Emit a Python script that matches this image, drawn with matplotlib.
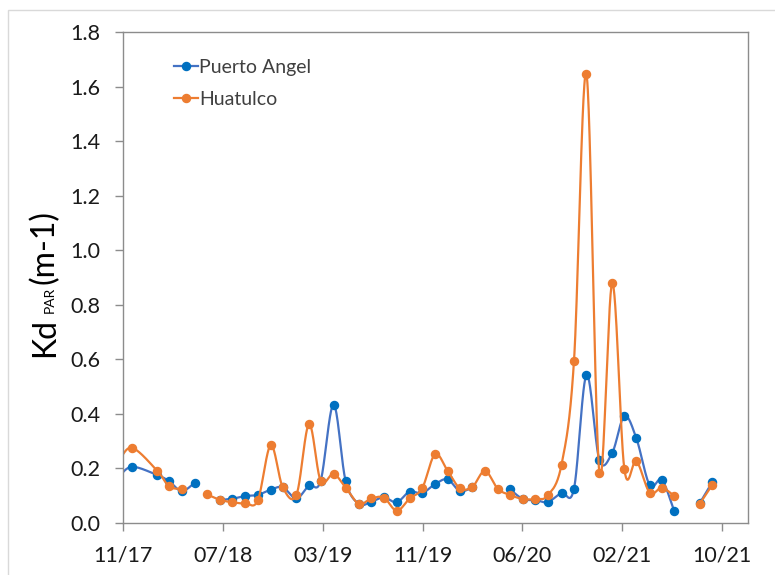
import numpy as np
import pandas as pd
import matplotlib
matplotlib.use("Agg")
import matplotlib.pyplot as plt
import matplotlib.dates as mdates
from matplotlib.lines import Line2D
from matplotlib.patches import Rectangle

plt.rcParams['font.family'] = ['Lato', 'DejaVu Sans']

# ---- data ----
dates = ["2017-10-31", "2017-12-03", "2018-02-02", "2018-03-03", "2018-04-02", "2018-05-03",
         "2018-06-02", "2018-07-03", "2018-08-02", "2018-09-02", "2018-10-02", "2018-11-02",
         "2018-12-01", "2019-01-03", "2019-02-02", "2019-03-02", "2019-04-02", "2019-05-01",
         "2019-06-02", "2019-07-02", "2019-08-01", "2019-09-01", "2019-10-02", "2019-11-01",
         "2019-12-02", "2020-01-01", "2020-01-31", "2020-03-01", "2020-03-31", "2020-05-01",
         "2020-05-30", "2020-06-30", "2020-07-30", "2020-08-29", "2020-10-01", "2020-10-31",
         "2020-11-30", "2020-12-31", "2021-01-31", "2021-03-01", "2021-03-30", "2021-05-01",
         "2021-05-30", "2021-06-29", "2021-07-29", "2021-08-29", "2021-09-28"]

puerto_angel = [0.165, 0.206, 0.176, 0.153, 0.117, 0.147,
                None, 0.084, 0.089, 0.099, 0.103, 0.122,
                0.131, 0.090, 0.138, 0.154, 0.434, 0.155,
                0.070, 0.078, 0.094, 0.076, 0.115, 0.109,
                0.143, 0.160, 0.117, 0.131, None, None,
                0.124, 0.088, 0.084, 0.077, 0.111, 0.126,
                0.543, 0.231, 0.258, 0.392, 0.310, 0.138,
                0.158, 0.043, None, 0.072, 0.149]

huatulco = [0.220, 0.276, 0.192, 0.134, 0.125, None,
            0.105, 0.085, 0.076, 0.072, 0.083, 0.285,
            0.131, 0.104, 0.362, 0.155, 0.180, 0.130,
            0.070, 0.090, 0.093, 0.045, 0.090, 0.127,
            0.252, 0.192, 0.127, 0.133, 0.191, 0.125,
            0.103, 0.088, 0.088, 0.101, 0.214, 0.595,
            1.645, 0.184, 0.880, 0.198, 0.227, 0.111,
            0.129, 0.099, None, 0.070, 0.139]

series_names = ["Puerto Angel", "Huatulco"]
line_colors = ["#4472C4", "#ED7D31"]
marker_colors = ["#0070C0", "#ED7D31"]

axis_start = "2017-11-12"
tick_step_days = 240
n_ticks = 7
y_ticks = [0.0, 0.2, 0.4, 0.6, 0.8, 1.0, 1.2, 1.4, 1.6, 1.8]


def smooth_curve(x, y, n=30):
    """Excel-like smoothed line: cubic Bezier through points, breaks at NaN."""
    out_x, out_y = [], []
    x = np.asarray(x, float)
    y = np.asarray(y, float)
    ok = ~np.isnan(y)
    segs = []
    cur = []
    for i in range(len(x)):
        if ok[i]:
            cur.append(i)
        else:
            if cur:
                segs.append(cur)
            cur = []
    if cur:
        segs.append(cur)
    t = np.linspace(0, 1, n)[:, None]
    for seg in segs:
        P = np.column_stack([x[seg], y[seg]])
        k = len(P)
        if k < 2:
            continue
        for i in range(k - 1):
            p0 = P[i - 1] if i > 0 else P[i]
            p1 = P[i]
            p2 = P[i + 1]
            p3 = P[i + 2] if i + 2 < k else P[i + 1]
            c1 = p1 + (p2 - p0) / 6.0
            c2 = p2 - (p3 - p1) / 6.0
            B = ((1 - t) ** 3) * p1 + 3 * ((1 - t) ** 2) * t * c1 + 3 * (1 - t) * t ** 2 * c2 + t ** 3 * p2
            out_x.extend(B[:, 0]); out_y.extend(B[:, 1])
        out_x.append(np.nan); out_y.append(np.nan)
    return np.array(out_x), np.array(out_y)


W, H = 775, 575
fig = plt.figure(figsize=(W / 100, H / 100), dpi=100)
ax = fig.add_axes([123 / W, 1 - 523 / H, 624.5 / W, 491 / H])

# chart-area frame
fig.patches.append(Rectangle((8 / W, -0.1), 1.2, 1 - 10 / H + 0.1, transform=fig.transFigure,
                             fill=False, edgecolor="#d9d9d9", lw=1.0, zorder=0))

xd = mdates.date2num(pd.to_datetime(dates))
for vals, name, lc, mc in zip([puerto_angel, huatulco], series_names, line_colors, marker_colors):
    yv = np.array([np.nan if v is None else v for v in vals], float)
    sx, sy = smooth_curve(xd, yv)
    ax.plot(sx, sy, color=lc, lw=1.6, solid_capstyle="round")
    ax.plot(xd, yv, ls="none", marker="o", ms=5.8, color=mc, mec=mc)

start = pd.Timestamp(axis_start)
tick_dates = [start + pd.Timedelta(days=tick_step_days * k) for k in range(n_ticks)]
ax.set_xlim(mdates.date2num(start), mdates.date2num(start + pd.Timedelta(days=1501)))
ax.set_xticks(mdates.date2num(tick_dates))
ax.set_xticklabels([d.strftime("%m/%y") for d in tick_dates])
ax.set_ylim(0, 1.8)
ax.set_yticks(y_ticks)
ax.set_yticklabels([f"{v:.1f}" for v in y_ticks])

for s in ax.spines.values():
    s.set_color("#8c8c8c")
    s.set_linewidth(1.0)
ax.tick_params(axis="both", direction="out", length=6, width=1.0, color="#8c8c8c",
               labelsize=15.5, labelcolor="#1a1a1a")
ax.tick_params(axis="y", pad=10)
ax.tick_params(axis="x", pad=10)

# legend
handles = [Line2D([0], [0], color=lc, lw=1.6, marker="o", ms=5.8, mfc=mc, mec=mc)
           for lc, mc in zip(line_colors, marker_colors)]
ax.legend(handles, series_names, loc="upper left", bbox_to_anchor=(0.082, 0.945),
          frameon=False, fontsize=14, handlelength=1.2, handletextpad=0.1,
          labelspacing=0.77, borderpad=0, borderaxespad=0, labelcolor="#404040")

# y label: Kd (PAR subscript-size) (m-1)
fig.canvas.draw()
r = fig.canvas.get_renderer()
bx = 54 / W
y0 = 357
parts = [("Kd", 23), ("PAR", 10), ("(m-1)", 23)]
gaps = [0, 5, 3]
ycur = y0
for (txt, fs), g in zip(parts, gaps):
    ycur -= g
    t = fig.text(bx, 1 - ycur / H, txt, rotation=90, rotation_mode="anchor",
                 ha="left", va="baseline", fontsize=fs, color="#000000")
    ext = t.get_window_extent(r)
    ycur -= ext.height

fig.savefig("out.png", dpi=100)
